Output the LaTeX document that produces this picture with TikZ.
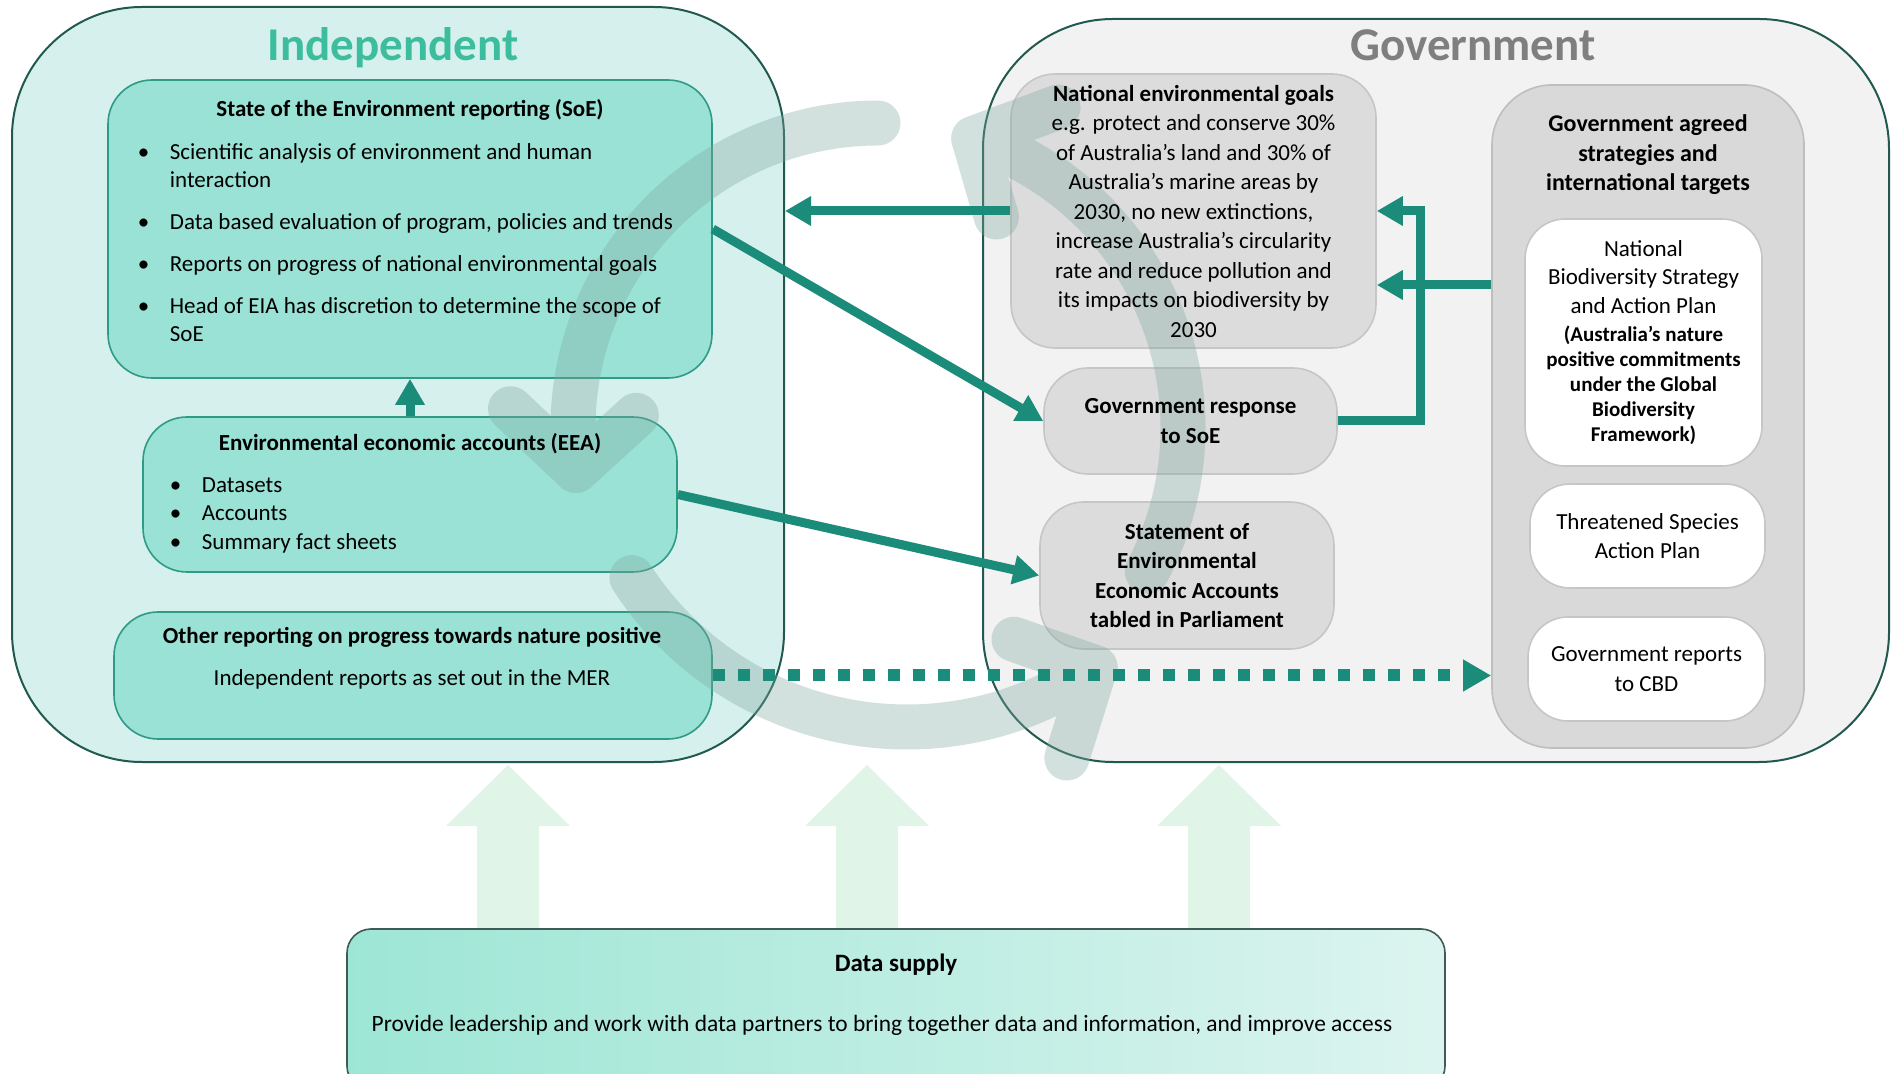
\documentclass[tikz,border=0pt]{standalone}
\usepackage{fontspec}
\setmainfont{Carlito}
\usetikzlibrary{positioning,arrows.meta}

\definecolor{indepfill}{HTML}{D6F0ED}
\definecolor{darkrim}{HTML}{21594F}
\definecolor{indeptitle}{HTML}{3CBE9E}
\definecolor{tealfill}{HTML}{9AE2D5}
\definecolor{tealrim}{HTML}{2F9A85}
\definecolor{flowteal}{HTML}{1B8C79}
\definecolor{govfill}{HTML}{F2F2F2}
\definecolor{govtitle}{HTML}{7F7F7F}
\definecolor{goalfill}{HTML}{DCDCDC}
\definecolor{goalrim}{HTML}{C6C6C6}
\definecolor{agreedfill}{HTML}{D9D9D9}
\definecolor{agreedrim}{HTML}{BEBEBE}
\definecolor{cyclegrey}{HTML}{7FA8A0}
\definecolor{supplyarrow}{HTML}{E1F4E8}
\definecolor{dataleft}{HTML}{9DE6D5}
\definecolor{dataright}{HTML}{DCF4EF}
\definecolor{datarim}{HTML}{3E5C55}

\newcommand{\listbullet}[1]{\makebox[16pt][l]{\textbullet}#1}
\newcommand{\listindent}{\hspace*{16pt}}
\newcommand{\nbsapbold}[1]{{\fontsize{10.5}{12.5}\selectfont\bfseries #1}}

\tikzset{
  outerbox/.style = {draw = darkrim, line width = 1pt, rounded corners = 65pt},
  tealbox/.style = {draw = tealrim, fill = tealfill, line width = 0.8pt, rounded corners = 22pt},
  greybox/.style = {draw = goalrim, fill = goalfill, line width = 0.8pt, rounded corners = 22pt},
  whitebox/.style = {draw = goalrim, fill = white, line width = 0.8pt, rounded corners = 20pt},
  cyclearc/.style = {draw = cyclegrey, line width = 22.5pt, line cap = round, line join = round},
  bigtitle/.style = {font = \fontsize{23.5}{28}\selectfont\bfseries},
  boxtext/.style = {align = center, inner sep = 0pt, font = \fontsize{11.5}{14.75}\selectfont},
  boxtitle/.style = {boxtext, font = \fontsize{11.5}{14.75}\selectfont\bfseries},
  bullets/.style = {align = left, inner sep = 0pt, anchor = north west, font = \fontsize{11.5}{14}\selectfont},
  flow/.style = {draw = flowteal, line width = 4.5pt, -{Triangle[length = 13pt, width = 14pt]}},
  dotflow/.style = {draw = flowteal, line width = 6pt, dash pattern = on 6pt off 6.5pt, -{Triangle[length = 14pt, width = 15pt]}}
}

\begin{document}
\begin{tikzpicture}[x = 0.5pt, y = -0.5pt]
        \useasboundingbox (0,0) rectangle (1896,1074);
        \clip (0,0) rectangle (1896,1074);

        % supply arrows
        \foreach \ax in {508,867,1219}
          \fill[supplyarrow] (\ax-31,929) -- (\ax-31,826) -- (\ax-62,826) -- (\ax,765) -- (\ax+62,826) -- (\ax+31,826) -- (\ax+31,929) -- cycle;

        \node[outerbox, fill = indepfill, minimum width = 386pt, minimum height = 377.5pt] (indep) at (398,384.5) {};
        \node[outerbox, fill = govfill, minimum width = 453pt, minimum height = 371.5pt] (gov) at (1436,390.5) {};

        \node[tealbox, minimum width = 302pt, minimum height = 149pt] (soe) at (410,229) {};
        \node[tealbox, minimum width = 267pt, minimum height = 77.5pt] (eea) at (410,494.5) {};
        \node[tealbox, minimum width = 299pt, minimum height = 63.5pt] (other) at (413,675.5) {};

        \node[greybox, minimum width = 182.5pt, minimum height = 137pt] (goals) at (1193.5,211) {};
        \node[greybox, minimum width = 146.5pt, minimum height = 53pt] (resp) at (1190.5,421) {};
        \node[greybox, minimum width = 147pt, minimum height = 73.5pt] (stmt) at (1187,575.5) {};
        \node[greybox, fill = agreedfill, draw = agreedrim, rounded corners = 30pt, minimum width = 156pt, minimum height = 331.5pt] (agreed) at (1648,416.5) {};
        \node[whitebox, minimum width = 118.5pt, minimum height = 123.5pt] (nbsap) at (1643.5,342.5) {};
        \node[whitebox, minimum width = 117.5pt, minimum height = 52pt] (tsap) at (1647.5,536) {};
        \node[whitebox, minimum width = 118.5pt, minimum height = 52pt] (cbd) at (1646.5,669) {};

        \node[draw = datarim, line width = 0.8pt, rounded corners = 12pt, left color = dataleft, right color = dataright, minimum width = 549pt, minimum height = 80.5pt] (data) at (896,1009.5) {};

        % cycle in the back
        \begin{scope}[shift = {(878,428)}, transparency group, opacity = 0.35]
          \draw[cyclearc] (-90:305) arc[start angle = -90, end angle = -188, radius = 305];
          \draw[cyclearc] (-177:368) -- (-188:305) -- (-177:242);
          \draw[cyclearc, shift = {(29,-29)}] (147:328) arc[start angle = 147, end angle = 55, radius = 328];
          \draw[cyclearc, shift = {(29,-29)}] (66:393) -- (55:328) -- (66:263);
          \draw[cyclearc] (28:305) arc[start angle = 28, end angle = -71.7, radius = 305];
          \draw[cyclearc] (-60.7:368) -- (-71.7:305) -- (-60.7:242);
        \end{scope}

        \node[bigtitle, text = indeptitle] (indeptitle) at (393,48) {Independent};
        \node[bigtitle, text = govtitle] (govtitle) at (1473,45) {Government};

        \node[boxtitle] (soetitle) at (410,109.5) {State of the Environment reporting (SoE)};
        \node[bullets] (soelist) at (137.5,143.5) {\listbullet{Scientific analysis of environment and human}\\
          \listindent interaction\\[7pt]
          \listbullet{Data based evaluation of program, policies and trends}\\[7pt]
          \listbullet{Reports on progress of national environmental goals}\\[7pt]
          \listbullet{Head of EIA has discretion to determine the scope of}\\
          \listindent SoE};

        \node[boxtitle] (eeatitle) at (410,443.5) {Environmental economic accounts (EEA)};
        \node[bullets, font = \fontsize{11.5}{14.25}\selectfont] (eealist) at (169.5,477) {\listbullet{Datasets}\\ \listbullet{Accounts}\\ \listbullet{Summary fact sheets}};

        \node[boxtitle] (othertitle) at (412,637.5) {Other reporting on progress towards nature positive};
        \node[boxtext] (othertext) at (412,679) {Independent reports as set out in the MER};

        \node[boxtext] (goalstext) at (goals) {{\bfseries National environmental goals}\\
          e.g. protect and conserve 30\%\\ of Australia’s land and 30\% of\\ Australia’s marine areas by\\
          2030, no new extinctions,\\ increase Australia’s circularity\\ rate and reduce pollution and\\
          its impacts on biodiversity by\\ 2030};
        \node[boxtitle] (resptext) at (resp) {Government response\\ to SoE};
        \node[boxtitle] (stmttext) at (stmt) {Statement of\\ Environmental\\ Economic Accounts\\ tabled in Parliament};

        \node[boxtitle, font = \fontsize{12}{14.75}\selectfont\bfseries] (agreedtitle) at (1648,155) {Government agreed\\ strategies and\\ international targets};
        \node[boxtext, font = \fontsize{11.5}{14.25}\selectfont] (nbsaptext) at (nbsap) {National\\ Biodiversity Strategy\\ and Action Plan\\
          \nbsapbold{(Australia’s nature}\\[-1.75pt] \nbsapbold{positive commitments}\\[-1.75pt]
          \nbsapbold{under the Global}\\[-1.75pt] \nbsapbold{Biodiversity}\\[-1.75pt] \nbsapbold{Framework)}};
        \node[boxtext] (tsaptext) at (tsap) {Threatened Species\\ Action Plan};
        \node[boxtext] (cbdtext) at (cbd) {Government reports\\ to CBD};

        \node[boxtitle, font = \fontsize{12.5}{15}\selectfont\bfseries] (datatitle) at (896,964.5) {Data supply};
        \node[boxtext, font = \fontsize{11.7}{14.75}\selectfont] (datatext) at (882,1025.5) {Provide leadership and work with data partners to bring together data and information, and improve access};

        \draw (goals.west) edge[flow] (goals.west -| indep.east);
        \draw (soe.east) edge[flow] (resp.west);
        \draw (eea.east) edge[flow] (stmt.west);
        \draw (eea.north) edge[flow] (soe.south);
        \draw[flow] (resp.east) -- ++(83,0) |- (goals.east);
        \draw (agreed.west |- 0,285) edge[flow] (goals.east |- 0,285);
        \draw (other.east) edge[dotflow] (other.east -| agreed.west);
      \end{tikzpicture}
\end{document}
